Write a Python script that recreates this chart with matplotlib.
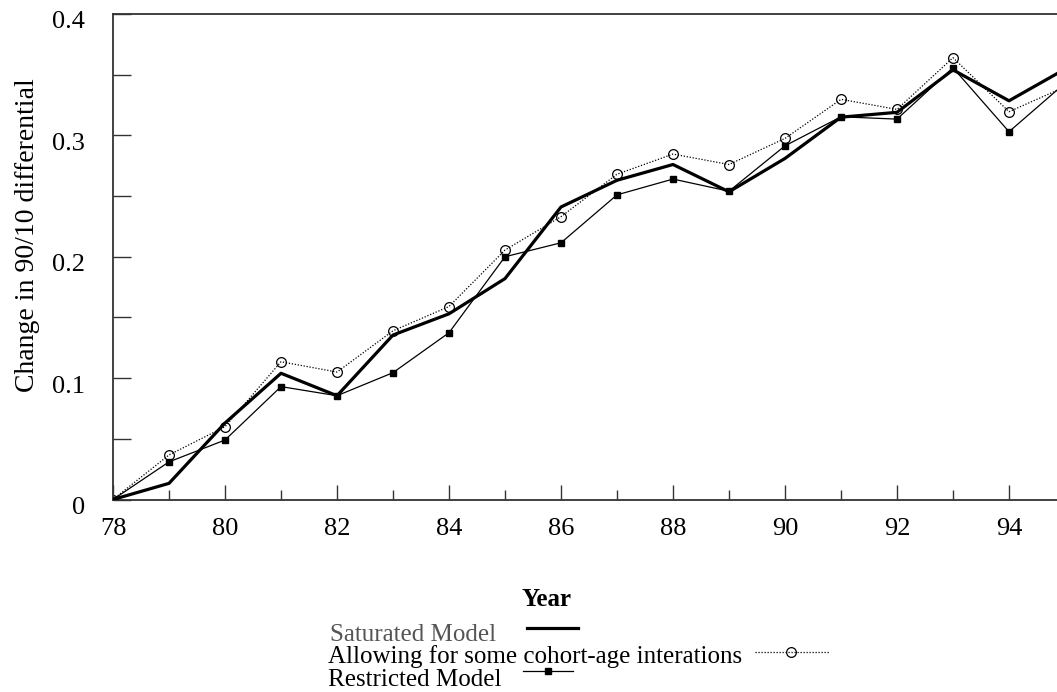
import matplotlib.pyplot as plt
from matplotlib.lines import Line2D
from matplotlib.ticker import MultipleLocator
from matplotlib.transforms import ScaledTranslation

plt.rcParams["font.family"] = ["Liberation Serif", "DejaVu Serif"]
plt.rcParams["font.size"] = 18

years = list(range(78, 96))
saturated = [0.0, 0.0133, 0.063, 0.104, 0.0855, 0.1355, 0.153, 0.182, 0.241,
             0.263, 0.276, 0.2535, 0.281, 0.315, 0.319, 0.354, 0.3285, 0.3546]
allowing = [0.0, 0.0367, 0.060, 0.1135, 0.105, 0.139, 0.159, 0.2055, 0.233,
            0.268, 0.2846, 0.276, 0.2975, 0.3297, 0.3214, 0.364, 0.3195, 0.340]
restricted = [0.0, 0.031, 0.049, 0.093, 0.0855, 0.1045, 0.1374, 0.200, 0.2115,
              0.251, 0.264, 0.254, 0.2914, 0.3153, 0.3134, 0.3557, 0.303, 0.343]

yticks = [0, 0.1, 0.2, 0.3, 0.4]
ytick_labels = ["0", "0.1", "0.2", "0.3", "0.4"]
labels = ["Saturated Model", "Allowing for some cohort-age interations",
          "Restricted Model"]

W, H = 1057, 692
fig = plt.figure(figsize=(W / 100, H / 100), dpi=100)
ax = fig.add_axes([113 / W, 1 - 499.5 / H, (1065 - 113) / W, (499.5 - 14) / H])

sat_style = dict(color="black", lw=2.3)
all_style = dict(color="black", lw=0.9, ls=(0, (1, 1.4)), marker="o", ms=7,
                 mfc="none", mec="black", mew=0.9)
res_style = dict(color="black", lw=0.9, marker="s", ms=4.5, mfc="black", mec="black")

ax.plot(years, saturated, **sat_style, zorder=3)
ax.plot(years, allowing, **all_style, zorder=2)
ax.plot(years, restricted, **res_style, zorder=2)

ax.set_xlim(78, 95)
ax.set_ylim(0, 0.4)
ax.xaxis.set_major_locator(MultipleLocator(2))
ax.xaxis.set_minor_locator(MultipleLocator(1))
ax.yaxis.set_minor_locator(MultipleLocator(0.05))
ax.set_yticks(yticks)
ax.set_yticklabels(ytick_labels)

ax.tick_params(axis="x", which="major", direction="in", length=11, width=1,
               pad=13, labelsize=19, color="#333333")
ax.tick_params(axis="x", which="minor", direction="in", length=7, width=1,
               color="#333333")
ax.tick_params(axis="y", which="both", direction="in", length=13, width=1,
               pad=20, labelsize=19, color="#333333")
shift = ScaledTranslation(0, -6 / 100, fig.dpi_scale_trans)
for lab in ax.get_yticklabels():
    lab.set_transform(lab.get_transform() + shift)
for s in ax.spines.values():
    s.set_linewidth(1.3)
    s.set_color("#333333")

ax.set_ylabel("Change in 90/10 differential", fontsize=20)
ax.yaxis.set_label_coords(-0.077, 0.545)
fig.text(547 / W, 1 - 599 / H, "Year", fontweight="bold", fontsize=18,
         ha="center", va="center")

# legend built by hand: text followed by a line sample
def fx(px):
    return px / W

def fy(py):
    return 1 - py / H

fig.text(fx(330), fy(641), labels[0], color="#555555", fontsize=18, va="baseline")
fig.text(fx(328), fy(663.5), labels[1], color="black", fontsize=18, va="baseline")
fig.text(fx(328), fy(686), labels[2], color="black", fontsize=18, va="baseline")

fig.add_artist(Line2D([fx(527), fx(578)], [fy(628), fy(628)], **sat_style))
fig.add_artist(Line2D([fx(755), fx(830)], [fy(652), fy(652)], color="black",
                      lw=0.9, ls=(0, (1, 1.4))))
fig.add_artist(Line2D([fx(791)], [fy(652)], ls="none", marker="o", ms=7,
                      mfc="none", mec="black", mew=0.9))
fig.add_artist(Line2D([fx(523), fx(573)], [fy(671), fy(671)], color="black", lw=0.9))
fig.add_artist(Line2D([fx(548)], [fy(671)], ls="none", marker="s", ms=4.5,
                      mfc="black", mec="black"))

fig.savefig("out.png", dpi=100)
